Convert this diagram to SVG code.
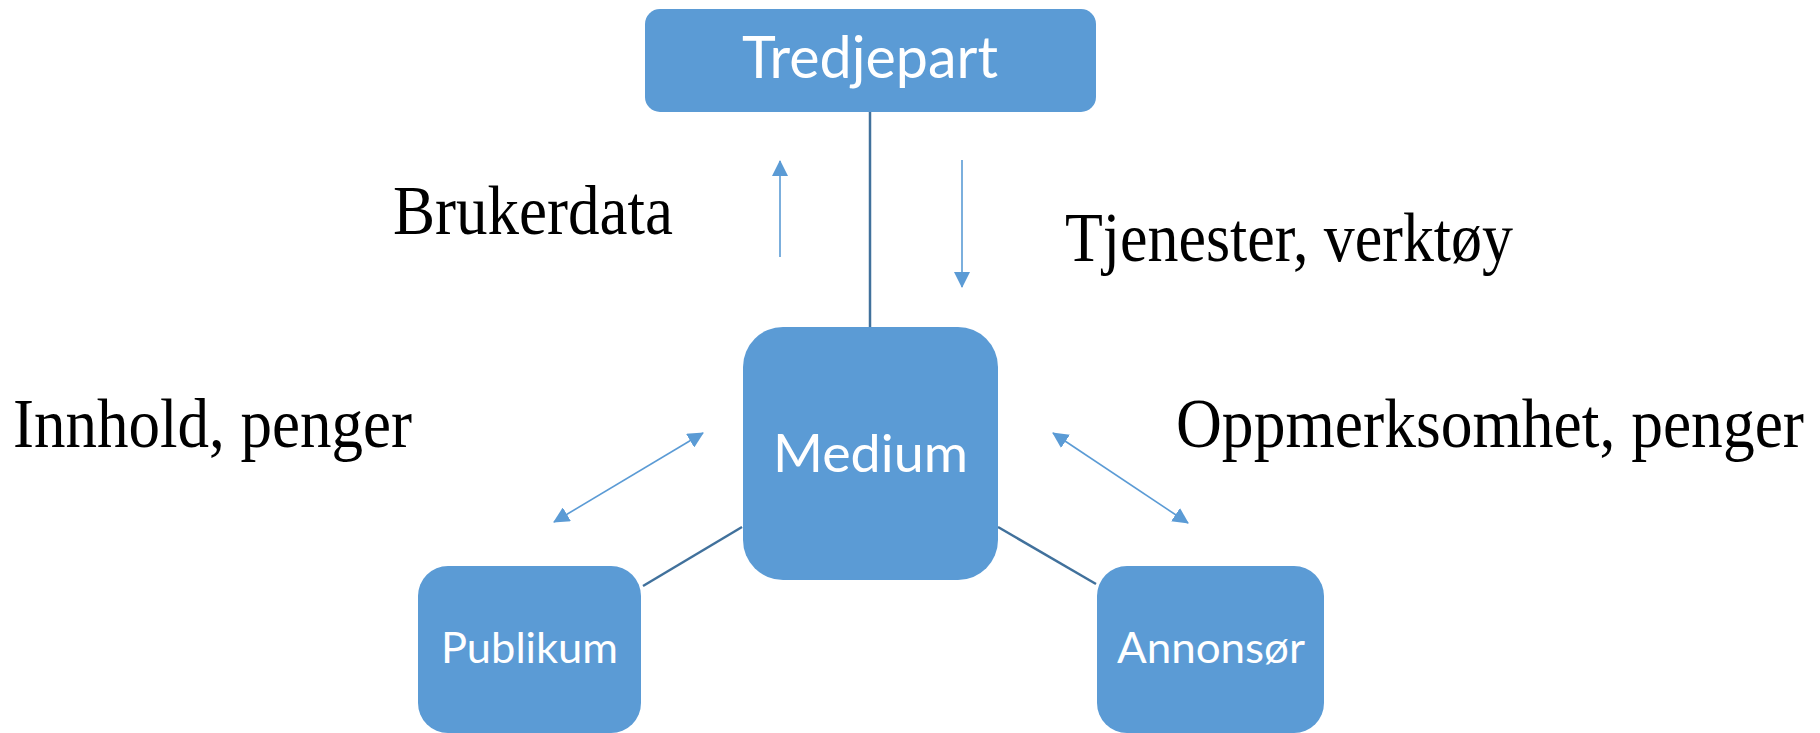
<svg xmlns="http://www.w3.org/2000/svg" width="1820" height="733" viewBox="0 0 1820 733">
  <style>
    .node rect { fill: #5B9BD5; }
    .node text { fill: #FFFFFF; font-family: Lato, "Open Sans", sans-serif; text-anchor: start; }
    .link { stroke: #41719C; stroke-width: 2.5; fill: none; }
    .flow { stroke: #5B9BD5; stroke-width: 1.6; fill: none; }
    .label { fill: #000000; font-family: "Liberation Serif", "Times New Roman", serif; font-size: 70px; }
  </style>
  <defs>
    <marker id="head" markerUnits="userSpaceOnUse" markerWidth="16" markerHeight="16" refX="15" refY="8" orient="auto-start-reverse" viewBox="0 0 16 16">
      <path d="M0,0 L16,8 L0,16 Z" fill="#5B9BD5"/>
    </marker>
  </defs>

  <rect width="1820" height="733" fill="#FFFFFF"/>

  <!-- structural connectors between the parties -->
  <g id="connectors">
    <line class="link" x1="870" y1="112" x2="870" y2="327"/>
    <line class="link" x1="742" y1="527" x2="643" y2="586"/>
    <line class="link" x1="998" y1="527" x2="1096" y2="584"/>
    <!-- flow arrows -->
    <line class="flow" x1="780" y1="257" x2="780" y2="161" marker-end="url(#head)"/>
    <line class="flow" x1="962" y1="160" x2="962" y2="287" marker-end="url(#head)"/>
    <line class="flow" x1="554" y1="522" x2="703" y2="433" marker-start="url(#head)" marker-end="url(#head)"/>
    <line class="flow" x1="1053" y1="433" x2="1188" y2="523" marker-start="url(#head)" marker-end="url(#head)"/>
  </g>

  <g id="tredjepart" class="node">
    <rect x="645" y="9" width="451" height="103" rx="15" ry="15"/>
    <text x="742" y="78" font-size="58" textLength="256" lengthAdjust="spacingAndGlyphs">Tredjepart</text>
  </g>

  <g id="medium" class="node">
    <rect x="743" y="327" width="255" height="253" rx="40" ry="40"/>
    <text x="773" y="472" font-size="53" textLength="195" lengthAdjust="spacingAndGlyphs">Medium</text>
  </g>

  <g id="publikum" class="node">
    <rect x="418" y="566" width="223" height="167" rx="30" ry="30"/>
    <text x="441" y="663" font-size="42" textLength="177" lengthAdjust="spacingAndGlyphs">Publikum</text>
  </g>

  <g id="annonsor" class="node">
    <rect x="1097" y="566" width="227" height="167" rx="30" ry="30"/>
    <text x="1117" y="663" font-size="42" textLength="188" lengthAdjust="spacingAndGlyphs">Annonsør</text>
  </g>

  <g id="labels">
    <text class="label" x="393" y="234" textLength="280" lengthAdjust="spacingAndGlyphs">Brukerdata</text>
    <text class="label" x="1065" y="261" textLength="448" lengthAdjust="spacingAndGlyphs">Tjenester, verktøy</text>
    <text class="label" x="13" y="447" textLength="399" lengthAdjust="spacingAndGlyphs">Innhold, penger</text>
    <text class="label" x="1176" y="447" textLength="628" lengthAdjust="spacingAndGlyphs">Oppmerksomhet, penger</text>
  </g>
</svg>
